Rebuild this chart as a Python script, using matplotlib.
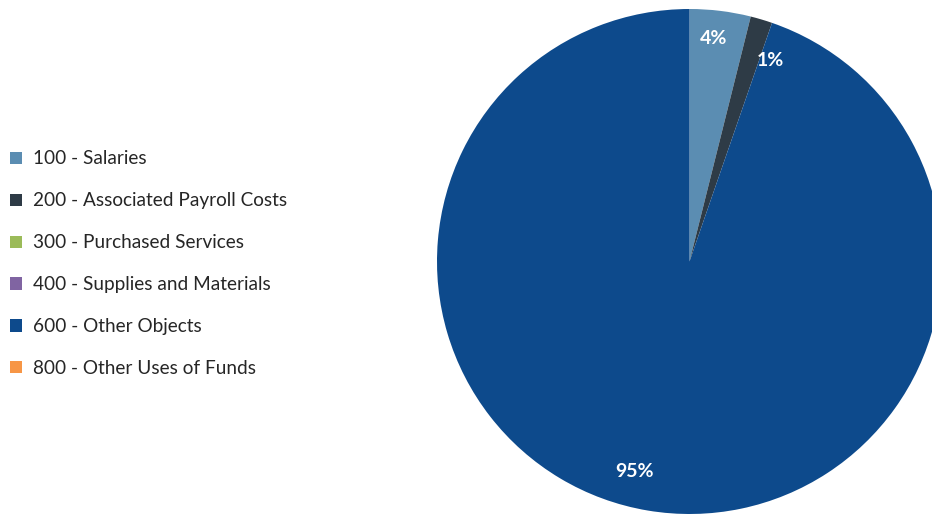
import numpy as np
import matplotlib.pyplot as plt
from matplotlib.patches import Patch

# spending by object code (percent of total)
categories = ['100 - Salaries', '200 - Associated Payroll Costs', '300 - Purchased Services',
              '400 - Supplies and Materials', '600 - Other Objects', '800 - Other Uses of Funds']
shares = [3.9, 1.4, 0.0, 0.0, 94.7, 0.0]
colors = ['#5B8DB2', '#2E3B46', '#9BBB59', '#8064A2', '#0D4A8C', '#F79646']

plt.rcParams['font.family'] = ['Lato', 'DejaVu Sans']

fig = plt.figure(figsize=(9.32, 5.14), dpi=100)
# pie sits to the right and runs off the right/bottom edges
ax = fig.add_axes([437 / 932, 0 / 514, 505 / 932, 505 / 514])

wedges, _ = ax.pie(shares, colors=colors, startangle=90, counterclock=False,
                   radius=1.0, wedgeprops=dict(linewidth=0))
ax.set_xlim(-1, 1)
ax.set_ylim(-1, 1)
ax.set_aspect('equal')
ax.axis('off')

# percentage labels, skipping empty slices; small slice label pushed clockwise
nudge = {0: 1.0, 1: -5.4, 4: -5.0}
dist = {0: 0.89, 1: 0.86, 4: 0.86}
for i, w in enumerate(wedges):
    if shares[i] <= 0:
        continue
    ang = (w.theta1 + w.theta2) / 2 + nudge.get(i, 0.0)
    r = dist.get(i, 0.87)
    x = r * np.cos(np.radians(ang))
    y = r * np.sin(np.radians(ang))
    ax.text(x, y, f'{shares[i]:.0f}%', ha='center', va='center',
            color='white', fontsize=14, fontweight='bold')

handles = [Patch(facecolor=c, edgecolor='none') for c in colors]
fig.legend(handles, categories, loc='upper left', bbox_to_anchor=(0.0, 1 - 140 / 514),
           frameon=False, fontsize=13.7, handlelength=0.6, handleheight=0.6,
           handletextpad=0.58, labelspacing=1.31, borderaxespad=0, borderpad=0.55,
           labelcolor='#262626')

fig.savefig('out.png', dpi=100)
